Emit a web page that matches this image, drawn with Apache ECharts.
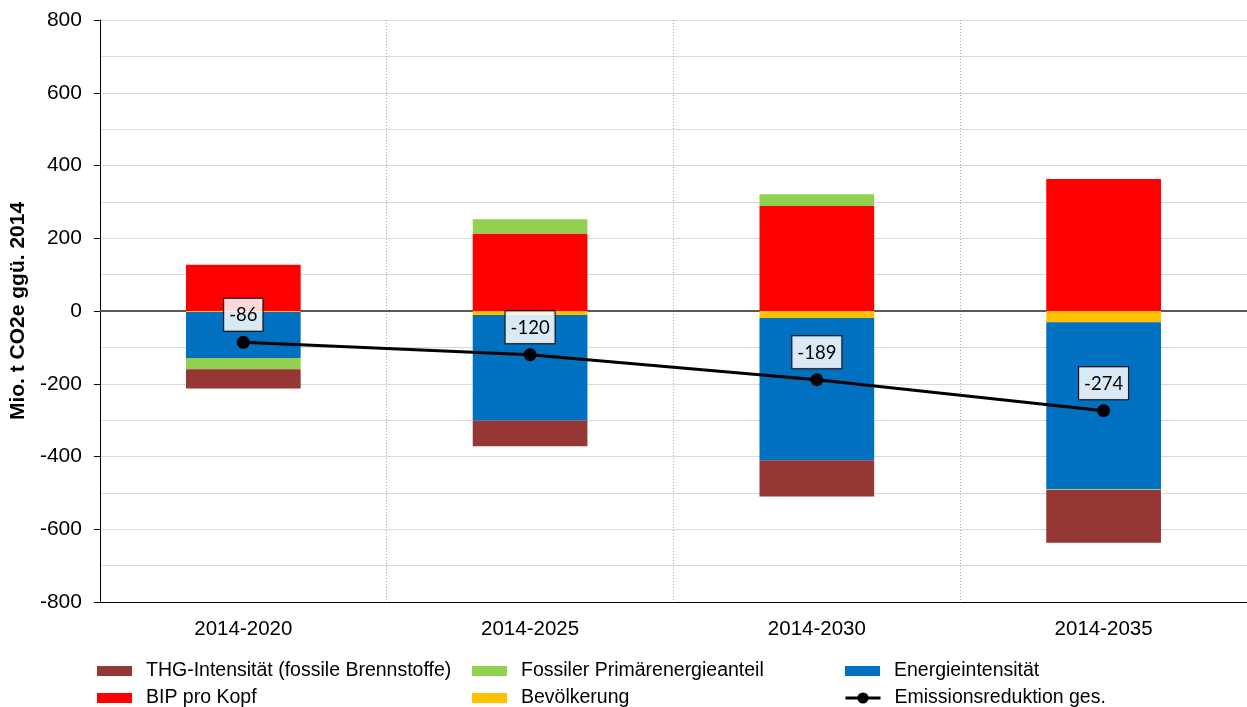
<!DOCTYPE html>
<html>
<head>
<meta charset="utf-8">
<script src="https://cdn.jsdelivr.net/npm/echarts@6/dist/echarts.min.js"></script>
<style>
  html, body { margin: 0; padding: 0; background: #fff; }
  #chart { width: 1247px; height: 707px; }
</style>
</head>
<body>
<div id="chart"></div>
<script>
// Zeiträume (Kategorien der x-Achse)
const categories = ['2014-2020', '2014-2025', '2014-2030', '2014-2035'];

// Beiträge der einzelnen Faktoren, Mio. t CO2e ggü. 2014
const bevoelkerung = [-3, -11, -19, -31];
const bipProKopf = [127, 213, 289, 363];
const energieintensitaet = [-126, -290, -391, -459];
const fossilerAnteil = [-31, 39, 32, -2];
const thgIntensitaet = [-53, -71, -100, -145];

// Gesamte Emissionsreduktion
const emissionsreduktion = [-86, -120, -189, -274];

// Achsenskala
const yMin = -800, yMax = 800, yStep = 200;

const FONT = '"Liberation Sans", Arial, sans-serif';

const chart = echarts.init(document.getElementById('chart'), null, { renderer: 'canvas' });

function barSeries(name, data, color) {
  return {
    name: name,
    type: 'bar',
    stack: 'gesamt',
    barWidth: '40%',
    data: data,
    itemStyle: { color: color },
    emphasis: { disabled: true }
  };
}

// Eine Legende je Eintrag, in drei Spalten und zwei Zeilen angeordnet
function legendItem(name, left, top, isLine) {
  const entry = { name: name };
  if (!isLine) entry.icon = 'rect';
  return {
    left: left,
    top: top,
    padding: 0,
    itemWidth: 35,
    itemHeight: isLine ? 14 : 10,
    selectedMode: false,
    data: [entry],
    lineStyle: isLine ? { width: 3, color: '#000' } : undefined,
    textStyle: {
      fontFamily: FONT, fontSize: 19.5, color: '#000', lineHeight: 20,
      padding: [0, 0, 0, 9]
    }
  };
}

const row1 = 661, row2 = 688;

chart.setOption({
  animation: false,
  backgroundColor: '#fff',
  grid: { left: 98, right: 0, top: 20, bottom: 105, containLabel: false },
  legend: [
    legendItem('THG-Intensität (fossile Brennstoffe)', 97, row1),
    legendItem('BIP pro Kopf', 97, row2),
    legendItem('Fossiler Primärenergieanteil', 472, row1),
    legendItem('Bevölkerung', 472, row2),
    legendItem('Energieintensität', 845, row1),
    legendItem('Emissionsreduktion ges.', 844, row2, true)
  ],
  xAxis: {
    type: 'category',
    data: categories,
    boundaryGap: true,
    axisLine: { onZero: false, lineStyle: { color: '#000', width: 1 } },
    axisTick: { show: false },
    axisLabel: { fontFamily: FONT, fontSize: 20.5, color: '#000', margin: 17 },
    splitLine: { show: true, lineStyle: { color: '#a6a6a6', type: [1, 2], width: 1 } }
  },
  yAxis: {
    type: 'value',
    min: yMin,
    max: yMax,
    interval: yStep,
    name: 'Mio. t CO2e ggü. 2014',
    nameLocation: 'middle',
    nameRotate: 90,
    nameGap: 65,
    nameTextStyle: { fontFamily: FONT, fontSize: 21, fontWeight: 'bold', color: '#000' },
    axisLine: { show: true, lineStyle: { color: '#000', width: 1 } },
    axisTick: { show: true, inside: false, length: 6, lineStyle: { color: '#000' } },
    axisLabel: { fontFamily: FONT, fontSize: 21, color: '#000', margin: 18 },
    splitLine: { show: true, lineStyle: { color: '#d9d9d9', width: 1 } },
    minorTick: { show: false, splitNumber: 2 },
    minorSplitLine: { show: true, lineStyle: { color: '#d9d9d9', width: 1 } }
  },
  series: [
    barSeries('Bevölkerung', bevoelkerung, '#ffc000'),
    barSeries('BIP pro Kopf', bipProKopf, '#ff0000'),
    barSeries('Energieintensität', energieintensitaet, '#0070c0'),
    barSeries('Fossiler Primärenergieanteil', fossilerAnteil, '#92d050'),
    barSeries('THG-Intensität (fossile Brennstoffe)', thgIntensitaet, '#953735'),
    {
      name: 'Emissionsreduktion ges.',
      type: 'line',
      data: emissionsreduktion,
      z: 5,
      symbol: 'circle',
      symbolSize: 13,
      lineStyle: { color: '#000', width: 3 },
      itemStyle: { color: '#000' },
      emphasis: { disabled: true },
      label: {
        show: true,
        position: 'top',
        distance: 5,
        fontFamily: 'Lato, "Open Sans", sans-serif',
        fontSize: 18.5,
        color: '#000',
        backgroundColor: 'rgba(255,255,255,0.85)',
        borderColor: '#000',
        borderWidth: 1,
        padding: [7, 5, 6, 5]
      },
      markLine: {
        silent: true,
        symbol: 'none',
        label: { show: false },
        lineStyle: { color: '#595959', width: 2, type: 'solid' },
        data: [{ yAxis: 0 }],
        z: 1
      }
    }
  ]
});
</script>
</body>
</html>
